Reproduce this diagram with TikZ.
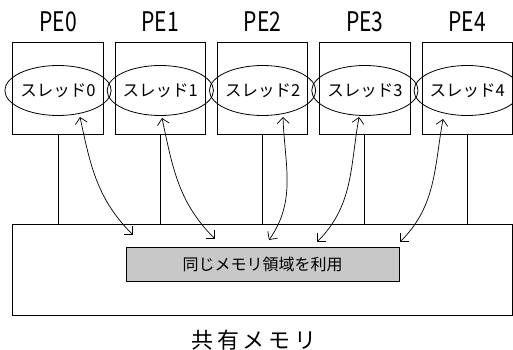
\documentclass[tikz,border=0pt]{standalone}
\usepackage{fontspec}
\setmainfont{Noto Sans CJK JP}
\usetikzlibrary{arrows.meta,shapes.geometric}
\definecolor{regiongray}{RGB}{200,200,200}
\begin{document}
\begin{tikzpicture}[x=1pt,y=-1pt,
  pebox/.style={draw,line width=0.9pt,minimum width=90.5pt,minimum height=91.5pt,inner sep=0},
  thr/.style={draw,ellipse,line width=0.8pt,minimum width=84pt,minimum height=50pt,inner sep=0,font=\fontsize{16.5}{16.5}\selectfont},
  pelabel/.style={font=\fontsize{27}{27}\selectfont,xscale=0.78},
  conn/.style={line width=0.9pt},
  arr/.style={line width=0.7pt,{Straight Barb[length=6pt,width=12pt]}-{Straight Barb[length=6pt,width=12pt]}}
]
\useasboundingbox (0,0) rectangle (513,350);
% memory
\node[draw,line width=0.9pt,minimum width=499.5pt,minimum height=91.5pt,inner sep=0] (mem) at (262.35,270) {};
\node[draw,line width=0.9pt,fill=regiongray,minimum width=273pt,minimum height=34pt,inner sep=0,font=\fontsize{16}{16}\selectfont] (reg) at (262.5,264) {同じメモリ領域を利用};
\node[font=\fontsize{22}{22}\selectfont] (memlabel) at (254,340) {共\,有\,メ\,モ\,リ};
% PEs
\foreach \i/\x in {0/58,1/160.3,2/262.6,3/364.9,4/467.2}{
  \node[pebox] (pe\i) at (\x,88.5) {};
  \node[thr] (th\i) at (\x,90.5) {スレッド\i};
  \node[pelabel] (pl\i) at (\x,22) {PE\i};
  \coordinate (c\i) at (\x,224);
  \draw[conn] (pe\i.south) -- (c\i);
}
% arrows
\coordinate (a0) at (80,117);  \coordinate (b0) at (133,235);
\coordinate (a1) at (162,118); \coordinate (b1) at (215,239);
\coordinate (a2) at (283,117); \coordinate (b2) at (269,240);
\coordinate (a3) at (359,117); \coordinate (b3) at (317,242);
\coordinate (a4) at (443,119); \coordinate (b4) at (400,242);
\draw[arr] (a0) to[out=-78,in=135] (b0);
\draw[arr] (a1) to[out=-78,in=135] (b1);
\draw[arr] (a2) to[out=-88,in=55] (b2);
\draw[arr] (a3) to[out=-100,in=45] (b3);
\draw[arr] (a4) to[out=-100,in=45] (b4);
\end{tikzpicture}
\end{document}
